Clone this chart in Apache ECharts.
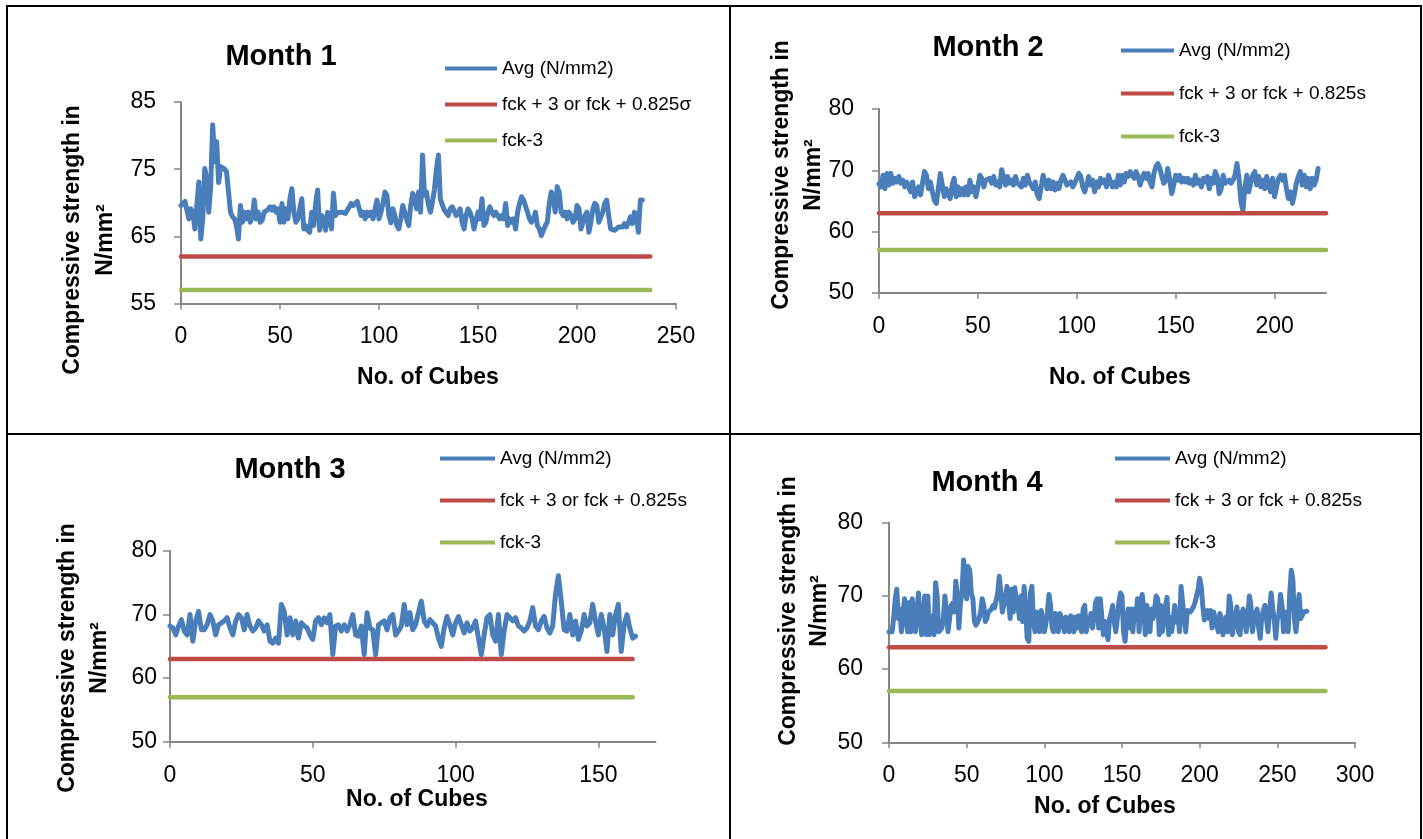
<!DOCTYPE html>
<html>
<head>
<meta charset="utf-8">
<title>Compressive strength - Month 1 to 4</title>
<script src="https://cdn.jsdelivr.net/npm/echarts@6/dist/echarts.min.js"></script>
<style>
  body { margin: 0; background: #fff; }
  #page { position: relative; width: 1423px; height: 839px; overflow: hidden; }
  #chart { position: absolute; left: 0; top: 0; width: 1423px; height: 839px; }
  .rule { position: absolute; background: #000; }
</style>
</head>
<body>
<div id="page">
  <div id="chart"></div>
  <div class="rule" style="left:6px;top:5px;width:1416px;height:2px"></div>
  <div class="rule" style="left:6px;top:5px;width:2px;height:840px"></div>
  <div class="rule" style="left:1420px;top:5px;width:2px;height:840px"></div>
  <div class="rule" style="left:729px;top:5px;width:2px;height:840px"></div>
  <div class="rule" style="left:6px;top:433px;width:1416px;height:2px"></div>
</div>
<script>
// average compressive strength per cube
var avg1 = [69.6, 69.9, 70.2, 70.3, 67.6, 69.1, 68.6, 66.1, 65.9, 73.1,
    64.6, 67.6, 75.1, 73.6, 68.6, 72.5, 81.6, 76.1, 79.1, 73.0,
    75.4, 75.6, 75.0, 74.6, 71.6, 68.6, 67.9, 67.6, 66.6, 64.6,
    69.6, 67.1, 68.6, 67.6, 68.6, 67.1, 67.9, 70.4, 67.6, 68.6,
    67.1, 67.4, 68.6, 68.6, 69.0, 69.4, 68.9, 69.4, 68.6, 69.1,
    67.1, 69.9, 67.1, 69.1, 67.6, 70.6, 72.1, 68.6, 67.1, 67.6,
    69.1, 70.6, 66.1, 66.6, 65.9, 65.6, 68.6, 66.6, 69.9, 71.9,
    65.9, 68.1, 67.6, 65.9, 68.6, 68.1, 66.1, 71.4, 68.1, 68.5,
    68.6, 68.6, 68.5, 68.4, 68.9, 69.1, 69.9, 69.6, 69.9, 70.2,
    69.1, 68.1, 68.6, 67.6, 68.6, 68.1, 68.6, 67.6, 69.1, 70.4,
    67.6, 68.6, 69.9, 71.6, 71.1, 68.1, 67.0, 69.1, 68.1, 66.6,
    66.1, 67.6, 69.6, 69.6, 67.5, 66.6, 69.5, 71.4, 70.6, 69.1,
    71.6, 68.6, 77.1, 71.1, 71.6, 69.6, 68.6, 70.1, 72.0, 75.0,
    77.1, 70.5, 69.7, 68.9, 69.1, 68.1, 69.1, 69.4, 69.2, 68.1,
    68.6, 69.1, 67.1, 66.1, 68.1, 69.1, 68.6, 67.6, 66.1, 67.4,
    68.6, 67.6, 70.6, 66.6, 67.1, 68.6, 69.4, 68.6, 68.1, 68.6,
    68.1, 67.6, 68.1, 67.6, 69.9, 66.6, 67.6, 67.1, 67.6, 66.1,
    68.6, 69.9, 70.9, 70.4, 70.6, 68.6, 67.6, 67.1, 67.6, 68.6,
    66.6, 66.1, 65.1, 65.1, 66.6, 67.1, 69.9, 71.6, 70.6, 68.6,
    72.4, 71.6, 68.6, 68.1, 68.6, 67.6, 68.6, 68.1, 67.1, 67.6,
    69.6, 69.1, 66.1, 67.1, 68.1, 68.6, 65.6, 67.1, 69.1, 69.9,
    69.6, 67.1, 67.1, 68.6, 69.9, 70.4, 68.1, 66.1, 65.9, 65.9,
    66.1, 66.4, 66.6, 66.4, 66.9, 66.4, 67.1, 67.9, 66.9, 68.6,
    68.1, 65.6, 70.4, 70.4];

var avg2 = [67.8, 67.3, 69.2, 67.0, 69.5, 67.6, 69.5, 67.9, 68.7, 68.1, 69.0,
    67.9, 68.4, 67.3, 68.1, 67.3, 66.5, 68.1, 65.7, 66.0, 67.3,
    66.0, 67.9, 69.8, 69.2, 67.0, 68.1, 66.5, 65.1, 64.6, 67.0,
    69.5, 67.6, 65.7, 67.0, 66.0, 65.4, 67.6, 68.7, 65.7, 67.3,
    66.0, 67.0, 66.0, 67.3, 66.0, 68.4, 66.5, 67.3, 65.7, 67.3,
    69.2, 68.7, 67.3, 68.4, 68.1, 68.7, 67.9, 69.0, 67.6, 68.1,
    67.3, 70.1, 69.8, 67.6, 69.0, 67.9, 68.4, 67.6, 69.0, 67.9,
    68.1, 67.3, 68.7, 67.6, 69.2, 68.1, 67.6, 67.0, 68.1, 66.0,
    65.4, 67.3, 69.2, 68.1, 67.0, 68.4, 67.0, 68.1, 66.8, 67.9,
    67.0, 68.4, 69.2, 69.0, 67.6, 67.3, 68.1, 67.3, 67.9, 68.7,
    69.5, 69.0, 67.3, 66.5, 67.6, 69.0, 67.6, 68.4, 66.5, 68.1,
    67.3, 68.7, 68.0,
    68.4, 67.3, 69.2, 69.5, 67.3, 68.1, 67.3, 69.2, 67.6, 69.2,
    68.1, 69.5, 69.0, 69.8, 70.1, 68.7, 69.8, 69.0, 67.6, 68.7,
    69.5, 68.7, 69.5, 68.1, 67.3, 69.5, 70.6, 71.1, 70.3, 69.0,
    67.9, 68.4, 70.3, 68.4, 66.2, 67.6, 69.2, 68.4, 69.2, 68.1,
    68.7, 68.1, 68.7, 67.9, 68.4, 67.6, 69.2, 67.9, 68.4, 67.3,
    68.7, 68.1, 69.0, 67.0, 68.7, 67.9, 69.8, 69.0, 66.2, 67.0,
    69.2, 67.9, 68.1, 68.4, 67.9, 68.4, 69.2, 71.1, 68.7, 64.9,
    63.4, 67.3, 69.2, 66.5, 68.1, 69.2, 69.8, 67.6, 69.0, 67.3,
    68.4, 67.0, 69.0, 67.6, 66.5, 68.7, 65.7, 67.3, 68.7, 69.2,
    68.4, 69.2, 67.0, 65.4, 66.5, 64.6, 66.0, 67.9, 69.0, 69.8,
    67.6, 69.2, 67.3, 68.7, 67.0, 68.7, 67.6, 68.4, 70.3];

var avg3 = [68.2, 67.9, 66.8, 68.2, 69.2, 67.4, 66.8, 70.0, 65.8, 69.0,
    70.5, 67.6, 67.6, 68.4, 70.0, 69.0, 66.8, 68.4, 68.7, 69.0,
    69.5, 67.9, 66.8, 69.0, 70.0, 69.5, 67.6, 70.0, 68.2, 67.4,
    67.9, 69.0, 68.4, 67.4, 68.4, 65.8, 65.5, 66.3, 65.5, 71.6,
    70.5, 66.8, 69.5, 66.8, 69.0, 66.3, 68.7, 68.2, 67.9, 66.8,
    66.1, 69.0, 69.5, 68.4, 69.5, 68.7, 70.0, 63.7, 68.2, 68.4,
    67.4, 68.4, 67.4, 68.4, 70.0, 66.8, 66.6, 68.2, 63.7, 70.3,
    67.9, 67.6, 63.7, 68.4, 68.7, 69.0, 67.6, 69.5, 70.0, 66.8,
    67.4, 68.2, 71.6, 68.4, 70.3, 67.6, 68.4, 70.3, 72.1, 69.0,
    68.2, 69.2, 68.7, 68.2, 66.3, 65.0, 67.9, 69.7, 68.4, 66.8,
    68.7, 69.7, 68.4, 67.1, 68.7, 67.4, 67.9, 69.0, 66.3, 63.7,
    66.8, 69.5, 70.0, 66.8, 65.8, 70.0, 63.7, 67.4, 70.0, 69.5,
    69.0, 69.5, 68.2, 67.9, 67.4, 67.9, 69.0, 71.1, 68.2, 67.6,
    69.0, 69.7, 67.9, 67.1, 68.2, 73.2, 76.1, 72.1, 67.6, 67.4,
    70.0, 66.8, 69.0, 66.1, 67.4, 70.0, 68.2, 68.7, 71.6, 69.0,
    66.8, 70.0, 67.9, 64.2, 70.0, 66.8, 70.0, 71.6, 64.2, 68.4,
    70.0, 67.9, 66.3, 66.6];

var avg4 = [65.1, 65.3, 65.1, 67.0, 69.5, 70.9, 66.9, 68.2, 65.1, 67.5, 69.6,
    66.9, 65.1, 69.1, 65.1, 69.6, 66.9, 65.1, 68.0, 70.4, 66.9, 64.7,
    66.9, 70.0, 64.7, 70.0, 64.7, 66.0, 67.3, 64.7, 71.8, 70.0, 65.1,
    65.1, 65.6, 66.9, 70.0, 70.0, 65.1, 66.9, 68.7, 69.0, 67.8, 72.0, 70.0,
    65.6, 69.1, 70.4, 74.9, 73.1, 69.6, 74.0, 73.5, 70.4, 69.6,
    66.5, 66.0, 66.4, 66.9, 67.8, 69.6, 68.7, 66.5, 66.9, 67.8, 68.0,
    68.2, 68.7, 68.4, 68.5, 70.4, 72.7, 70.4, 67.8, 67.6, 70.0, 71.3,
    69.1, 66.9, 70.9, 67.8, 71.1, 69.5, 68.7, 66.9, 70.0, 66.5, 71.3,
    67.8, 64.2, 63.8, 70.4, 71.3, 66.5, 65.1, 67.8, 66.9, 65.1,
    68.0, 66.5, 65.1, 66.2, 67.8, 70.2, 68.7, 65.6, 65.1, 67.6, 67.3,
    65.1, 67.6, 67.1, 66.0, 65.1, 67.1, 66.9, 65.1, 67.3, 67.3, 65.1,
    67.1, 65.6, 67.3, 66.4, 65.1, 68.2, 68.7, 65.1, 66.9, 66.0, 67.6,
    65.6, 67.0, 69.1, 69.6, 65.6, 69.6, 69.8, 64.7, 66.5, 65.1, 64.0,
    66.9, 67.6, 68.7, 66.5, 65.1, 66.9, 69.1, 70.4, 70.0, 65.1, 63.8,
    66.9, 68.2, 65.6, 68.2, 65.1, 68.2, 67.0, 69.6, 65.1, 69.1, 70.2,
    68.2, 64.7, 68.7, 66.9, 65.1, 68.2, 66.9, 68.2, 70.0, 69.6, 64.7,
    68.7, 65.1, 66.9, 68.7, 69.8, 64.7, 67.1, 65.1, 66.9, 68.7, 66.4,
    67.8, 65.1, 71.3, 71.3, 66.9, 65.1, 68.0, 67.8, 67.8, 68.0,
    68.5, 69.1, 70.0, 70.9, 72.4, 71.3, 68.7, 66.7, 66.5, 68.0,
    66.9, 68.0, 65.6, 67.8, 66.9, 66.0, 65.1, 67.6, 66.9, 64.7, 66.5,
    67.1, 65.1, 70.0, 68.7, 64.7, 66.2, 67.3, 68.5, 65.1, 64.7, 67.6,
    68.2, 66.9, 65.1, 66.9, 70.0, 68.7, 65.1, 66.9, 67.1, 68.2, 65.6,
    64.2, 67.3, 68.0, 68.7, 66.9, 65.1, 67.8, 70.4, 68.3, 66.9, 64.2,
    66.9, 67.3, 70.2, 68.7, 65.1, 67.8, 67.3, 65.1, 70.4, 73.5,
    72.2, 66.9, 65.1, 67.3, 70.2, 66.9, 67.3, 67.8, 67.6, 67.9];

var titles = ['Month 1', 'Month 2', 'Month 3', 'Month 4'];
var avgName = 'Avg (N/mm2)';
var upperNames = ['fck + 3 or fck + 0.825\u03c3', 'fck + 3 or fck + 0.825s',
    'fck + 3 or fck + 0.825s', 'fck + 3 or fck + 0.825s'];
var lowerName = 'fck-3';
var upperLimit = [62, 63, 63, 63];
var lowerLimit = [57, 57, 57, 57];
var limitEnd = [237, 226, 162, 281];   // last cube of the limit lines

var yMin = [55, 50, 50, 50];
var yMax = [85, 80, 80, 80];
var yTicks = [[55, 65, 75, 85], [50, 60, 70, 80], [50, 60, 70, 80], [50, 60, 70, 80]];
var xMax = [250, 226, 170, 300];
var xTicks = [[0, 50, 100, 150, 200, 250], [0, 50, 100, 150, 200],
    [0, 50, 100, 150], [0, 50, 100, 150, 200, 250, 300]];
var yNameTop = 'Compressive strength in';
var yNameBottom = 'N/mm\u00b2';
var xName = 'No. of Cubes';

var allAvg = [avg1, avg2, avg3, avg4];

// page layout of each panel (pixels)
var grids = [
    { left: 181, top: 102, width: 495, height: 201.5 },
    { left: 879, top: 109, width: 447, height: 184 },
    { left: 170, top: 551, width: 485.5, height: 190.7 },
    { left: 889, top: 522.7, width: 466, height: 219.6 }
];
var yLabelMargin = [25, 25, 13, 26];
var legendPos = [
    { left: 440, top: 54, itemWidth: 52, itemGap: 17 },
    { left: 1116, top: 36, itemWidth: 53, itemGap: 24 },
    { left: 435, top: 444, itemWidth: 55, itemGap: 23 },
    { left: 1110, top: 444, itemWidth: 55, itemGap: 23 }
];
var titlePos = [[281, 57], [988, 48], [290, 470], [987, 483]];
var xNamePos = [[428, 378], [1120, 378], [417, 800], [1105, 807]];
var yNamePos = [[73, 106, 240], [782, 814, 175], [68, 100, 658], [789, 820, 611]];

var FONT = '"Liberation Sans", Arial, sans-serif';
var AXIS_GREY = '#868686';
var BLUE = '#4A7EBB', RED = '#BE4B48', GREEN = '#98B954';

var chart = echarts.init(document.getElementById('chart'));

var xAxes = [], yAxes = [], series = [], legends = [], graphics = [];
for (var k = 0; k < 4; k++) {
    xAxes.push({
        type: 'value', gridIndex: k, min: 0, max: xMax[k],
        axisLine: { show: true, onZero: false, lineStyle: { color: AXIS_GREY, width: 2 } },
        axisTick: { show: true, length: 6, lineStyle: { color: AXIS_GREY, width: 1.5 }, customValues: xTicks[k] },
        axisLabel: { margin: 22, fontSize: 23, fontFamily: FONT, color: '#000', customValues: xTicks[k] },
        splitLine: { show: false }
    });
    yAxes.push({
        type: 'value', gridIndex: k, min: yMin[k], max: yMax[k],
        axisLine: { show: true, lineStyle: { color: AXIS_GREY, width: 2 } },
        axisTick: { show: true, length: 7, lineStyle: { color: AXIS_GREY, width: 1.5 }, customValues: yTicks[k] },
        axisLabel: { margin: yLabelMargin[k], fontSize: 23, fontFamily: FONT, color: '#000', customValues: yTicks[k] },
        splitLine: { show: false }
    });
    series.push({
        name: avgName, type: 'line', xAxisIndex: k, yAxisIndex: k,
        data: allAvg[k].map(function (v, i) { return [i, v]; }),
        symbol: 'none', color: BLUE,
        lineStyle: { width: 5, color: BLUE, cap: 'round', join: 'round' },
        animation: false
    });
    series.push({
        name: upperNames[k], type: 'line', xAxisIndex: k, yAxisIndex: k,
        data: [[0, upperLimit[k]], [limitEnd[k], upperLimit[k]]],
        symbol: 'none', color: RED,
        lineStyle: { width: 4.5, color: RED, cap: 'round' },
        animation: false
    });
    series.push({
        name: lowerName, type: 'line', xAxisIndex: k, yAxisIndex: k,
        data: [[0, lowerLimit[k]], [limitEnd[k], lowerLimit[k]]],
        symbol: 'none', color: GREEN,
        lineStyle: { width: 4.5, color: GREEN, cap: 'round' },
        animation: false
    });
    legends.push({
        orient: 'vertical', left: legendPos[k].left, top: legendPos[k].top,
        itemWidth: legendPos[k].itemWidth, itemHeight: 4, itemGap: legendPos[k].itemGap,
        icon: 'rect', selectedMode: false,
        data: [avgName, upperNames[k], lowerName],
        textStyle: { fontSize: 19, fontFamily: FONT, color: '#000' }
    });
    graphics.push({
        type: 'text', x: titlePos[k][0], y: titlePos[k][1],
        style: { text: titles[k], fontSize: 29, fontWeight: 'bold', fontFamily: FONT,
            fill: '#000', align: 'center', verticalAlign: 'middle' }
    });
    graphics.push({
        type: 'text', x: xNamePos[k][0], y: xNamePos[k][1],
        style: { text: xName, fontSize: 23, fontWeight: 'bold', fontFamily: FONT,
            fill: '#000', align: 'center', verticalAlign: 'middle' }
    });
    graphics.push({
        type: 'text', x: yNamePos[k][0], y: yNamePos[k][2], rotation: Math.PI / 2,
        style: { text: yNameTop, fontSize: 23, fontWeight: 'bold', fontFamily: FONT,
            fill: '#000', align: 'center', verticalAlign: 'middle' }
    });
    graphics.push({
        type: 'text', x: yNamePos[k][1], y: yNamePos[k][2], rotation: Math.PI / 2,
        style: { text: yNameBottom, fontSize: 23, fontWeight: 'bold', fontFamily: FONT,
            fill: '#000', align: 'center', verticalAlign: 'middle' }
    });
}

chart.setOption({
    backgroundColor: '#fff',
    animation: false,
    grid: grids,
    xAxis: xAxes,
    yAxis: yAxes,
    legend: legends,
    series: series,
    graphic: graphics
});
</script>
</body>
</html>
